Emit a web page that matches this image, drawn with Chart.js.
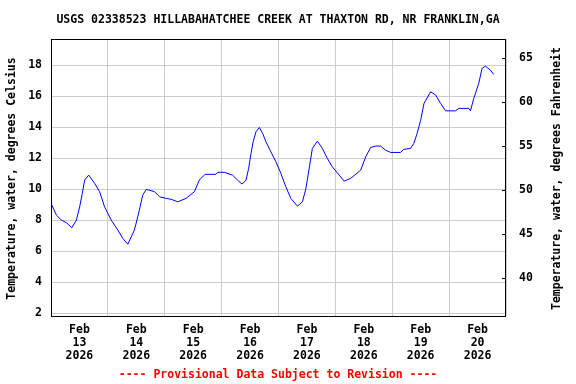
<!DOCTYPE html>
<html lang="en">
<head>
    <meta charset="UTF-8">
    <title>USGS 02338523 Water Temperature</title>
    <script src="https://cdn.jsdelivr.net/npm/chart.js"></script>
    <style>
        html, body { margin: 0; padding: 0; background: #fff; }
        #wrap { width: 576px; height: 384px; }
    </style>
</head>
<body>
    <div id="wrap"><canvas id="tempChart"></canvas></div>

    <script>
        // Hours since Feb 13 2026 00:00 and water temperature (deg C)
        const hoursFromStart = [0, 2.3, 4.4, 6.5, 8.8, 10.7, 12.1, 13.2, 14.2, 15.9, 18.4, 20.5, 22.6, 25.4, 28.2, 30.3, 32.4,
            35.2, 36.6, 37.6, 38.7, 40.2, 43.7, 45.8, 48.6, 50.7, 53.5, 57.0, 60.5, 62.6, 65.0, 69.6, 70.3, 73.1,
            76.6, 78.7, 80.6, 82.3, 83.4, 84.4, 85.3, 86.5, 87.9, 89.3, 90.7, 92.8, 94.9, 97.0, 99.1, 101.2, 104.0,
            106.1, 107.5, 108.9, 110.3, 112.4, 114.5, 116.6, 118.7, 121.6, 123.7, 126.5, 130.7, 132.8, 134.9, 137.0,
            139.1, 141.2, 143.3, 147.5, 148.9, 151.7, 153.1, 154.5, 156.0, 157.4, 160.2, 162.3, 164.4, 166.5, 170.7,
            172.1, 176.3, 177.0, 178.4, 180.5, 181.9, 183.3, 185.4, 186.8];
        const tempC = [9.09, 8.33, 8.01, 7.84, 7.52, 8.0, 8.87, 9.73, 10.59, 10.91, 10.38, 9.84, 8.87, 8.01, 7.37, 6.83, 6.45,
            7.37, 8.22, 8.87, 9.62, 9.99, 9.84, 9.51, 9.41, 9.35, 9.19, 9.41, 9.84, 10.59, 10.96, 10.96, 11.09, 11.09,
            10.91, 10.59, 10.33, 10.59, 11.34, 12.31, 13.06, 13.7, 13.98, 13.6, 13.06, 12.41, 11.77, 11.02, 10.16, 9.41, 8.91,
            9.19, 10.0, 11.3, 12.63, 13.1, 12.63, 11.99, 11.45, 10.91, 10.52, 10.70, 11.23, 12.09, 12.69, 12.78,
            12.78, 12.52, 12.37, 12.37, 12.57, 12.63, 12.95, 13.6, 14.45, 15.53, 16.28, 16.07, 15.53, 15.05, 15.05,
            15.21, 15.21, 15.05, 15.85, 16.82, 17.79, 17.93, 17.68, 17.4];

        const monthLabel = 'Feb';
        const yearLabel = '2026';
        const dayLabels = ['13', '14', '15', '16', '17', '18', '19', '20'];
        const celsiusTicks = [2, 4, 6, 8, 10, 12, 14, 16, 18];
        const fahrenheitTicks = [40, 45, 50, 55, 60, 65];

        const titleText = 'USGS 02338523 HILLABAHATCHEE CREEK AT THAXTON RD, NR FRANKLIN,GA';
        const leftTitle = 'Temperature, water, degrees Celsius';
        const rightTitle = 'Temperature, water, degrees Fahrenheit';
        const footerText = '---- Provisional Data Subject to Revision ----';

        const FONT = 'DejaVu Sans Mono';
        const tickFont = { family: FONT, size: 11.5, weight: 'bold', lineHeight: 1.1 };

        // Title, frame, axis titles, inward ticks on the right and footer
        const decorations = {
            id: 'decorations',
            afterDraw(chart) {
                const { ctx, chartArea: a } = chart;
                ctx.save();
                ctx.strokeStyle = '#000';
                ctx.lineWidth = 1;
                ctx.strokeRect(a.left + 0.5, a.top + 0.5, a.right - a.left - 1, a.bottom - a.top);

                const yr = chart.scales.yF;
                ctx.beginPath();
                fahrenheitTicks.forEach(v => {
                    const py = Math.round(yr.getPixelForValue(v)) + 0.5;
                    ctx.moveTo(a.right - 4, py);
                    ctx.lineTo(a.right, py);
                });
                ctx.stroke();

                ctx.fillStyle = '#000';
                ctx.font = 'bold 11.5px "' + FONT + '"';
                ctx.textAlign = 'center';
                ctx.textBaseline = 'middle';
                ctx.fillText(titleText, 278, 20);

                const midY = (a.top + a.bottom) / 2;
                ctx.save();
                ctx.translate(12, midY + 1);
                ctx.rotate(-Math.PI / 2);
                ctx.fillText(leftTitle, 0, 0);
                ctx.restore();

                ctx.save();
                ctx.translate(557, midY + 1);
                ctx.rotate(-Math.PI / 2);
                ctx.fillText(rightTitle, 0, 0);
                ctx.restore();

                ctx.fillStyle = '#ff0000';
                ctx.fillText(footerText, 278, 375);
                ctx.restore();
            }
        };

        new Chart(document.getElementById('tempChart'), {
            type: 'line',
            data: {
                datasets: [{
                    label: 'Temperature',
                    data: hoursFromStart.map((h, i) => ({ x: h, y: tempC[i] })),
                    borderColor: '#0000ff',
                    borderWidth: 1,
                    pointRadius: 0,
                    tension: 0,
                    yAxisID: 'y'
                }]
            },
            options: {
                responsive: true,
                maintainAspectRatio: false,
                animation: false,
                events: [],
                layout: { padding: { top: 39, left: 0, right: 0, bottom: 0 } },
                plugins: { legend: { display: false }, tooltip: { enabled: false } },
                scales: {
                    x: {
                        type: 'linear',
                        min: 0,
                        max: dayLabels.length * 24,
                        afterBuildTicks(scale) {
                            const t = [];
                            for (let h = 0; h <= dayLabels.length * 24; h += 12) t.push({ value: h });
                            scale.ticks = t;
                        },
                        afterFit(scale) { scale.height = 68; },
                        border: { display: false },
                        grid: {
                            color: ctx => (ctx.tick && ctx.tick.value % 24 === 0) ? '#cccccc' : 'rgba(0,0,0,0)',
                            drawTicks: false
                        },
                        ticks: {
                            autoSkip: false,
                            maxRotation: 0,
                            padding: 8,
                            color: '#000',
                            font: tickFont,
                            callback(value) {
                                if (value % 24 !== 12) return '';
                                return [monthLabel, dayLabels[Math.floor(value / 24)], yearLabel];
                            }
                        }
                    },
                    y: {
                        position: 'left',
                        min: 1.83,
                        max: 19.68,
                        afterBuildTicks(scale) { scale.ticks = celsiusTicks.map(v => ({ value: v })); },
                        afterFit(scale) { scale.width = 51; },
                        border: { display: false },
                        grid: { color: '#cccccc', drawTicks: false },
                        ticks: { padding: 9, color: '#000', font: tickFont }
                    },
                    yF: {
                        position: 'right',
                        min: 35.7,
                        max: 67.1,
                        afterBuildTicks(scale) { scale.ticks = fahrenheitTicks.map(v => ({ value: v })); },
                        afterFit(scale) { scale.width = 70; },
                        border: { display: false },
                        grid: { display: false, drawTicks: false },
                        ticks: { padding: 13, color: '#000', font: tickFont }
                    }
                }
            },
            plugins: [decorations]
        });
    </script>
</body>
</html>
